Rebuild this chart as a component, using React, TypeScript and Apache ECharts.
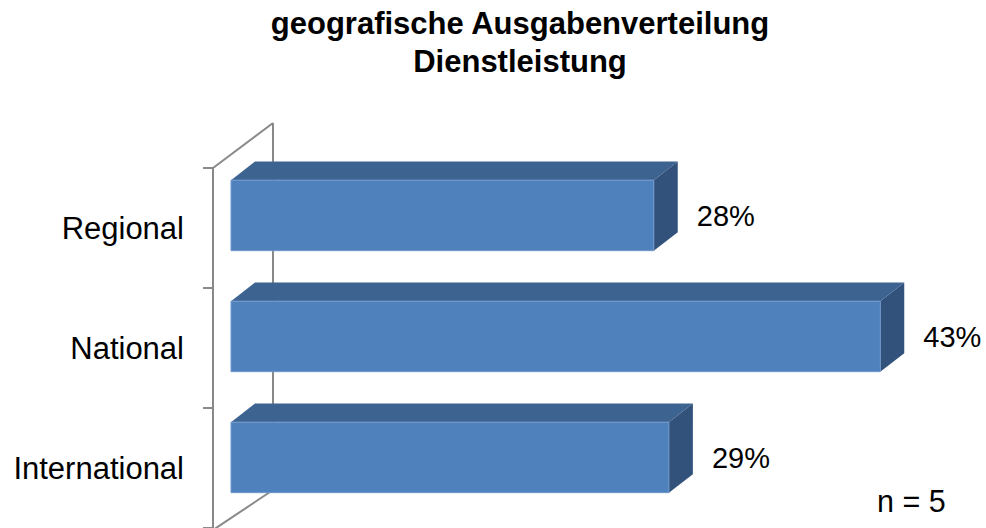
import React, { useEffect, useRef } from "react";
import * as echarts from "echarts";

const FONT = "'Liberation Sans', Arial, Helvetica, sans-serif";

const titleLines = ["geografische Ausgabenverteilung", "Dienstleistung"];
const categories = ["Regional", "National", "International"];
const values = [28, 43, 29];
const sampleNote = "n = 5";

const FRONT = "#4F81BD";
const TOP = "#3D6491";
const SIDE = "#32527C";
const WALL = "#898989";

export default function App() {
  const ref = useRef<HTMLDivElement>(null);

  useEffect(() => {
    document.body.style.margin = "0";
    if (!ref.current) return;
    const chart = echarts.init(ref.current, undefined, { renderer: "svg" });

    const data = values.map((v, i) => [v, i]);

    const renderItem = (params: any, api: any) => {
      const v = api.value(0);
      const ci = api.value(1);
      const p0 = api.coord([0, ci]);
      const p1 = api.coord([v, ci]);
      const band = api.size([0, 1])[1];
      const h = band * 0.583;
      const dx = band * 0.198;
      const dy = -band * 0.153;
      const x0 = p0[0];
      const x1 = p1[0];
      const y0 = p0[1] - h / 2;
      const y1 = p0[1] + h / 2;
      return {
        type: "group",
        children: [
          {
            type: "polygon",
            shape: {
              points: [
                [x0, y0],
                [x1, y0],
                [x1 + dx, y0 + dy],
                [x0 + dx, y0 + dy],
              ],
            },
            style: { fill: TOP },
          },
          {
            type: "polygon",
            shape: {
              points: [
                [x1, y0],
                [x1 + dx, y0 + dy],
                [x1 + dx, y1 + dy],
                [x1, y1],
              ],
            },
            style: { fill: SIDE },
          },
          {
            type: "rect",
            shape: { x: x0, y: y0, width: x1 - x0, height: h },
            style: { fill: FRONT, stroke: "#6E97CB", lineWidth: 1 },
          },
          {
            type: "text",
            style: {
              text: v + "%",
              x: x1 + 43,
              y: p0[1] + 1,
              align: "left",
              verticalAlign: "middle",
              fontSize: 29,
              fontFamily: FONT,
              fill: "#000",
            },
          },
        ],
      };
    };

    chart.setOption({
      animation: false,
      backgroundColor: "#fff",
      title: {
        text: titleLines.join("\n"),
        left: 515,
        top: -1,
        textAlign: "center",
        textStyle: {
          fontFamily: FONT,
          fontSize: 31,
          fontWeight: "bold",
          lineHeight: 38,
          color: "#000",
        },
      },
      grid: [
        { left: 231, right: 0, top: 154.9, bottom: 10.1 },
        { left: 213, right: 0, top: 168, bottom: -2 },
      ],
      xAxis: [
        { gridIndex: 0, type: "value", min: 0, max: 50, show: false },
        { gridIndex: 1, type: "value", min: 0, max: 50, show: false },
      ],
      yAxis: [
        {
          gridIndex: 0,
          type: "category",
          data: categories,
          inverse: true,
          show: false,
        },
        {
          gridIndex: 1,
          type: "category",
          data: categories,
          inverse: true,
          axisLine: { show: true, lineStyle: { color: WALL, width: 2 } },
          axisTick: { show: true, length: 10, lineStyle: { color: WALL, width: 2 } },
          axisLabel: {
            margin: 29,
            fontSize: 31,
            fontFamily: FONT,
            color: "#000",
          },
          splitLine: { show: false },
        },
      ],
      graphic: [
        {
          type: "line",
          shape: { x1: 213, y1: 168, x2: 273, y2: 123 },
          style: { stroke: WALL, lineWidth: 2 },
          z: 0,
        },
        {
          type: "line",
          shape: { x1: 273, y1: 123, x2: 273, y2: 490 },
          style: { stroke: WALL, lineWidth: 2 },
          z: 0,
        },
        {
          type: "line",
          shape: { x1: 213, y1: 530, x2: 273, y2: 490 },
          style: { stroke: WALL, lineWidth: 2 },
          z: 0,
        },
        {
          type: "text",
          x: 877,
          y: 501,
          style: {
            text: sampleNote,
            fontSize: 30.5,
            fontFamily: FONT,
            fill: "#000",
            align: "left",
            verticalAlign: "middle",
          },
          z: 10,
        },
      ],
      series: [
        {
          type: "custom",
          xAxisIndex: 0,
          yAxisIndex: 0,
          renderItem,
          encode: { x: 0, y: 1 },
          data,
          z: 5,
        },
      ],
    });

    return () => chart.dispose();
  }, []);

  return <div ref={ref} style={{ width: 986, height: 528 }} />;
}
